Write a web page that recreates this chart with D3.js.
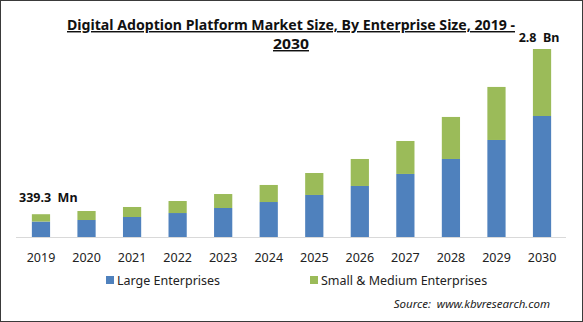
<!DOCTYPE html>
<html>
<head>
<meta charset="utf-8">
<script src="https://cdn.jsdelivr.net/npm/d3@7"></script>
<style>
  html, body { margin: 0; padding: 0; background: #fff; }
  svg { display: block; }
</style>
</head>
<body>
<div id="chart"></div>
<script>
// market size in USD Mn, split by enterprise size
var years = ["2019", "2020", "2021", "2022", "2023", "2024", "2025", "2026", "2027", "2028", "2029", "2030"];
var largeEnterprises = [230, 253, 298, 357, 432, 521, 626, 760, 939, 1162, 1445, 1802];
var smallMedium = [109.3, 134, 149, 179, 208, 254, 327, 402, 491, 626, 790, 998];
var seriesNames = ["Large Enterprises", "Small & Medium Enterprises"];
var seriesColors = ["#4f81bd", "#9bbb59"];
var firstLabel = "339.3  Mn";
var lastLabel = "2.8  Bn";

var width = 583, height = 322;
var baseY = 237;
var fontFam = "'Noto Sans', 'Open Sans', sans-serif";

var svg = d3.select("#chart").append("svg")
    .attr("width", width)
    .attr("height", height);

// outer frame
svg.append("rect")
    .attr("x", 0.5).attr("y", 0.5)
    .attr("width", width - 1).attr("height", height - 1)
    .attr("fill", "#fff")
    .attr("stroke", "#3a3a3a")
    .attr("stroke-width", 1);

// title, two lines, bold + underlined
var titleLines = ["Digital Adoption Platform Market Size, By Enterprise Size, 2019 -", "2030"];
var titleLen = [448, 36];
svg.selectAll(".title")
  .data(titleLines)
  .enter().append("text")
    .attr("class", "title")
    .attr("x", 291)
    .attr("y", (d, i) => 30 + i * 19)
    .attr("text-anchor", "middle")
    .attr("font-family", fontFam)
    .attr("font-weight", "bold")
    .attr("font-size", 14.5)
    .attr("textLength", (d, i) => titleLen[i])
    .attr("lengthAdjust", "spacingAndGlyphs")
    .attr("text-decoration", "underline")
    .attr("fill", "#111")
    .text(d => d);

var data = years.map((y, i) => ({ year: y, large: largeEnterprises[i], small: smallMedium[i] }));
var stacked = d3.stack().keys(["large", "small"])(data);

var x = d3.scaleBand()
    .domain(years)
    .range([18.2, 564.8])
    .paddingInner(0.6)
    .paddingOuter(0.3);

var y = d3.scaleLinear()
    .domain([0, 2800])
    .range([baseY, 49]);

svg.selectAll(".layer")
  .data(stacked)
  .enter().append("g")
    .attr("class", "layer")
    .attr("fill", (d, i) => seriesColors[i])
  .selectAll("rect")
  .data(d => d)
  .enter().append("rect")
    .attr("x", d => x(d.data.year))
    .attr("width", x.bandwidth())
    .attr("y", d => y(d[1]))
    .attr("height", d => y(d[0]) - y(d[1]));

// baseline
svg.append("line")
    .attr("x1", 16).attr("x2", 566)
    .attr("y1", baseY + 0.5).attr("y2", baseY + 0.5)
    .attr("stroke", "#d9d9d9")
    .attr("stroke-width", 1);

// year labels
var xAxis = svg.append("g")
    .attr("transform", "translate(0," + baseY + ")")
    .call(d3.axisBottom(x).tickSize(0).tickPadding(0));
xAxis.select(".domain").remove();
xAxis.selectAll("text")
    .attr("y", 25)
    .attr("dy", 0)
    .attr("font-family", fontFam)
    .attr("font-size", 12.5)
    .attr("fill", "#222");

// value callouts on first and last bar
var firstTotal = largeEnterprises[0] + smallMedium[0];
var lastIdx = years.length - 1;
var lastTotal = largeEnterprises[lastIdx] + smallMedium[lastIdx];

svg.append("text")
    .attr("x", 19)
    .attr("y", y(firstTotal) - 12)
    .attr("font-family", fontFam)
    .attr("font-weight", "bold")
    .attr("font-size", 12.5)
    .attr("fill", "#111")
    .style("white-space", "pre")
    .text(firstLabel);

svg.append("text")
    .attr("x", x(years[lastIdx]) + x.bandwidth() / 2 - 3)
    .attr("y", y(lastTotal) - 7)
    .attr("text-anchor", "middle")
    .attr("font-family", fontFam)
    .attr("font-weight", "bold")
    .attr("font-size", 12.5)
    .attr("fill", "#111")
    .style("white-space", "pre")
    .text(lastLabel);

// legend
var legendX = [106, 310];
var legend = svg.selectAll(".legend")
  .data(seriesNames)
  .enter().append("g")
    .attr("class", "legend")
    .attr("transform", (d, i) => "translate(" + legendX[i] + ",276)");
legend.append("rect")
    .attr("width", 8).attr("height", 8)
    .attr("fill", (d, i) => seriesColors[i]);
legend.append("text")
    .attr("x", 11)
    .attr("y", 8.5)
    .attr("font-family", fontFam)
    .attr("font-size", 12.5)
    .attr("fill", "#222")
    .text(d => d);

// source note
svg.append("text")
    .attr("x", 550)
    .attr("y", 308)
    .attr("text-anchor", "end")
    .attr("font-family", fontFam)
    .attr("font-style", "italic")
    .attr("font-size", 11.5)
    .attr("fill", "#222")
    .style("white-space", "pre")
    .text("Source:  www.kbvresearch.com");
</script>
</body>
</html>
